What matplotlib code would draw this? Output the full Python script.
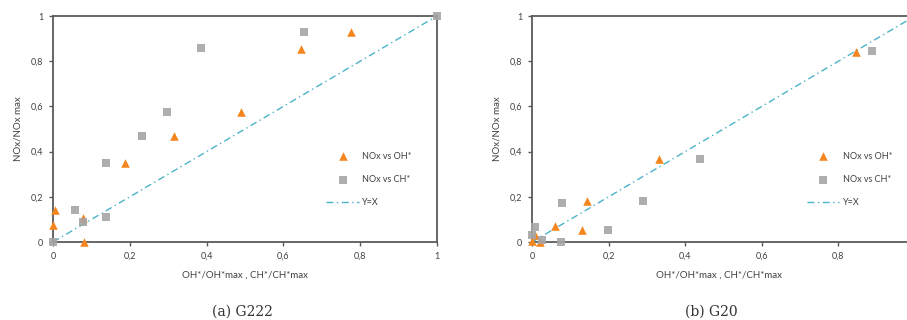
import matplotlib.pyplot as plt
from matplotlib.ticker import FuncFormatter

# G222 data
g222_oh_x = [0.004, 0.0, 0.078, 0.082, 0.1875, 0.314, 0.49, 0.645, 0.776]
g222_oh_y = [0.14, 0.077, 0.106, 0.0, 0.349, 0.467, 0.577, 0.853, 0.931]
g222_ch_x = [0.0, 0.056, 0.078, 0.139, 0.139, 0.233, 0.298, 0.385, 0.653, 1.0]
g222_ch_y = [0.0, 0.14, 0.087, 0.11, 0.349, 0.47, 0.577, 0.857, 0.931, 1.0]

# G20 data
g20_oh_x = [0.846, 0.332, 0.1435, 0.131, 0.061, 0.009, 0.0, 0.022]
g20_oh_y = [0.842, 0.367, 0.18, 0.054, 0.069, 0.032, 0.003, 0.0]
g20_ch_x = [0.887, 0.439, 0.291, 0.078, 0.198, 0.009, 0.0, 0.026, 0.077]
g20_ch_y = [0.845, 0.367, 0.18, 0.172, 0.054, 0.066, 0.032, 0.01, 0.0]

ticks = [0, 0.2, 0.4, 0.6, 0.8, 1]
ref_line = [0, 1]

orange = '#f5861f'
gray = '#a5a5a5'
teal = '#4bb3c8'
spine_c = '#5a5a5a'
font = 'Lato'

fig = plt.figure(figsize=(9.07, 3.2), dpi=100)
ax1 = fig.add_axes([53 / 907, 78 / 320, 384 / 907, 226 / 320])
# right panel runs off the page edge, as in the original
ax2 = fig.add_axes([532 / 907, 78 / 320, 375 / 907, 226 / 320])

fmt = FuncFormatter(lambda v, p: ('%g' % v).replace('.', ','))


def draw(ax, ohx, ohy, chx, chy, xmax, xticks, leg_x):
    ax.plot(ref_line, ref_line, color=teal, lw=1.0, dashes=(5, 2.5, 1, 2.5),
            label='Y=X', zorder=2)
    ax.scatter(ohx, ohy, marker='^', s=38, color=orange, label='NOx vs OH*',
               zorder=3, linewidths=0, clip_on=False)
    ax.scatter(chx, chy, marker='s', s=30, color=gray, label='NOx vs CH*',
               zorder=3, linewidths=0, alpha=0.9, clip_on=False)
    ax.set_xlim(0, xmax)
    ax.set_ylim(0, 1)
    ax.set_xticks(xticks)
    ax.set_yticks(ticks)
    ax.xaxis.set_major_formatter(fmt)
    ax.yaxis.set_major_formatter(fmt)
    for s in ax.spines.values():
        s.set_color(spine_c)
        s.set_linewidth(1.3)
    ax.tick_params(length=3, width=1, color=spine_c, labelsize=6.5,
                   labelcolor='#404040', pad=4)
    for lab in ax.get_xticklabels() + ax.get_yticklabels():
        lab.set_family(font)
    ax.set_xlabel('OH*/OH*max , CH*/CH*max', fontsize=7, family=font,
                  color='#404040', labelpad=7)
    ax.set_ylabel('NOx/NOx max', fontsize=7, family=font, color='#404040',
                  labelpad=6)
    h, l = ax.get_legend_handles_labels()
    order = [1, 2, 0]
    ax.legend([h[i] for i in order], [l[i] for i in order], loc='upper left',
              bbox_to_anchor=(leg_x, 0.42), frameon=False, borderpad=0,
              handlelength=3.6, handletextpad=0.4, labelspacing=1.6,
              prop={'family': font, 'size': 6.5}, labelcolor='#404040')


draw(ax1, g222_oh_x, g222_oh_y, g222_ch_x, g222_ch_y, 1.0, ticks, 0.70)
draw(ax2, g20_oh_x, g20_oh_y, g20_ch_x, g20_ch_y, 0.979, ticks[:-1], 0.72)
ax2.spines['right'].set_visible(False)

fig.text(242 / 907, 8 / 320, '(a) G222', ha='center', va='center',
         fontsize=10, family='DejaVu Serif', color='#333333')
fig.text(711 / 907, 8 / 320, '(b) G20', ha='center', va='center',
         fontsize=10, family='DejaVu Serif', color='#333333')

fig.savefig('out.png', dpi=100)
